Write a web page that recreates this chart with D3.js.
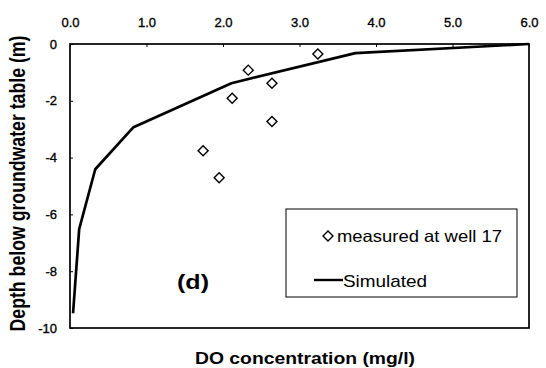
<!DOCTYPE html>
<html>
<head>
<meta charset="utf-8">
<script src="https://cdn.jsdelivr.net/npm/d3@7"></script>
<style>
  html, body { margin: 0; padding: 0; background: #fff; }
  svg { display: block; font-family: "Liberation Sans", Arial, sans-serif; }
</style>
</head>
<body>
<svg id="chart" width="546" height="368"></svg>
<script>
// DO concentration profile below the groundwater table
const xTicks = [0, 1, 2, 3, 4, 5, 6];
const yTicks = [0, -2, -4, -6, -8, -10];

// Simulated profile (DO mg/l, depth m)
const simDO    = [0.04, 0.12, 0.33, 0.83, 2.11, 3.73, 6.0];
const simDepth = [-9.48, -6.52, -4.41, -2.93, -1.38, -0.32, 0.0];

// Measured at well 17
const measDO    = [3.24, 2.33, 2.64, 2.12, 2.64, 1.74, 1.95];
const measDepth = [-0.35, -0.92, -1.38, -1.91, -2.73, -3.76, -4.71];

const svg = d3.select("#chart");
const m = { left: 70, right: 529, top: 44, bottom: 328 };

const x = d3.scaleLinear().domain([0, 6]).range([m.left, m.right]);
const y = d3.scaleLinear().domain([0, -10]).range([m.top, m.bottom]);

// plot frame
svg.append("rect")
  .attr("x", m.left).attr("y", m.top)
  .attr("width", m.right - m.left).attr("height", m.bottom - m.top)
  .attr("fill", "none").attr("stroke", "#000").attr("stroke-width", 1.7);

function styleTicks(g) {
  g.select(".domain").remove();
  g.selectAll("line").attr("stroke", "#000");
  g.selectAll("text")
    .attr("font-size", 13).attr("fill", "#000")
    .attr("stroke", "#000").attr("stroke-width", 0.35)
    .attr("font-family", "Liberation Sans, Arial, sans-serif");
}

// top x axis
svg.append("g")
  .attr("transform", `translate(0,${m.top})`)
  .call(d3.axisTop(x).tickValues(xTicks).tickSize(-3).tickPadding(17)
    .tickFormat(d3.format(".1f")))
  .call(styleTicks);

// left y axis
svg.append("g")
  .attr("transform", `translate(${m.left},0)`)
  .call(d3.axisLeft(y).tickValues(yTicks).tickSize(-3).tickPadding(13)
    .tickFormat(d => String(d)))
  .call(styleTicks);

// simulated line
const simData = simDO.map((d, i) => [d, simDepth[i]]);
svg.append("path")
  .datum(simData)
  .attr("fill", "none").attr("stroke", "#000").attr("stroke-width", 2.7)
  .attr("stroke-linejoin", "round")
  .attr("d", d3.line().x(d => x(d[0])).y(d => y(d[1])));

// measured diamonds
const diamond = d3.symbol().type(d3.symbolSquare).size(50);
svg.append("g").selectAll("path")
  .data(measDO.map((d, i) => [d, measDepth[i]]))
  .join("path")
  .attr("d", diamond)
  .attr("transform", d => `translate(${x(d[0])},${y(d[1])}) rotate(45)`)
  .attr("fill", "#fff").attr("stroke", "#000").attr("stroke-width", 1.4);

// panel label
svg.append("text")
  .attr("x", 177).attr("y", 289)
  .attr("textLength", 32).attr("lengthAdjust", "spacingAndGlyphs")
  .attr("font-size", 21).attr("font-weight", "bold")
  .text("(d)");

// legend
const leg = svg.append("g");
leg.append("rect")
  .attr("x", 286).attr("y", 209).attr("width", 231).attr("height", 88)
  .attr("fill", "#fff").attr("stroke", "#000").attr("stroke-width", 1);
leg.append("path")
  .attr("d", diamond)
  .attr("transform", "translate(328,236) rotate(45)")
  .attr("fill", "#fff").attr("stroke", "#000").attr("stroke-width", 1.4);
leg.append("text")
  .attr("x", 337).attr("y", 242)
  .attr("textLength", 165).attr("lengthAdjust", "spacingAndGlyphs")
  .attr("font-size", 16.5)
  .text("measured at well 17");
leg.append("line")
  .attr("x1", 314).attr("x2", 343).attr("y1", 280).attr("y2", 280)
  .attr("stroke", "#000").attr("stroke-width", 2.4);
leg.append("text")
  .attr("x", 343).attr("y", 287)
  .attr("textLength", 84).attr("lengthAdjust", "spacingAndGlyphs")
  .attr("font-size", 17)
  .text("Simulated");

// axis titles
svg.append("text")
  .attr("transform", `translate(25,183.5) scale(1.2,1) rotate(-90)`)
  .attr("text-anchor", "middle")
  .attr("font-size", 17.7).attr("font-weight", "bold")
  .text("Depth below groundwater table (m)");

svg.append("text")
  .attr("x", 195).attr("y", 364)
  .attr("textLength", 220).attr("lengthAdjust", "spacingAndGlyphs")
  .attr("font-size", 16.7).attr("font-weight", "bold")
  .text("DO concentration (mg/l)");
</script>
</body>
</html>
